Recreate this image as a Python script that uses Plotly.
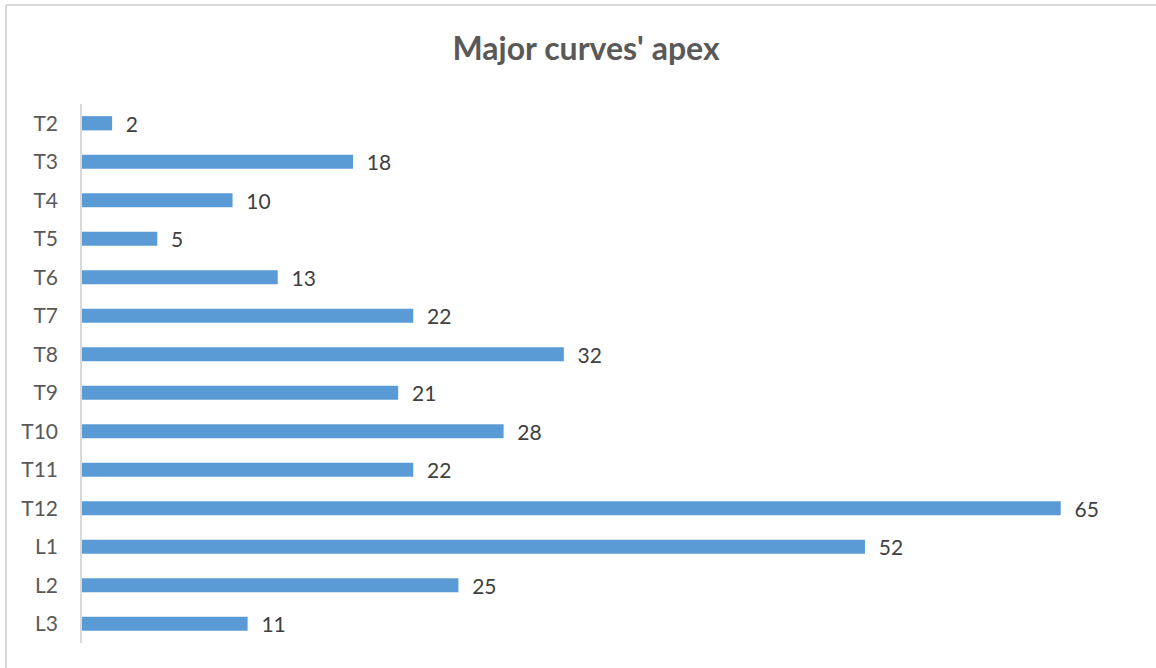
import plotly.graph_objects as go

categories = ["T2", "T3", "T4", "T5", "T6", "T7", "T8", "T9", "T10", "T11", "T12", "L1", "L2", "L3"]
values = [2, 18, 10, 5, 13, 22, 32, 21, 28, 22, 65, 52, 25, 11]
title_text = "Major curves' apex"

W, H = 1156, 668
ml, mr, mt, mb = 82, 20, 104, 25
pw, ph = W - ml - mr, H - mt - mb
FONT = "Lato, Open Sans, sans-serif"

fig = go.Figure(go.Bar(
    x=values, y=categories, orientation="h",
    marker=dict(color="#5B9BD5", line=dict(width=0)),
    width=0.37,
    text=["\u00a0\u00a0" + str(v) for v in values], textposition="outside",
    constraintext="none",
    textfont=dict(family=FONT, size=21, color="#404040"),
    cliponaxis=False,
))

fig.update_layout(
    width=W, height=H,
    margin=dict(l=ml, r=mr, t=mt, b=mb),
    paper_bgcolor="white", plot_bgcolor="white",
    title=dict(text="<b>" + title_text + "</b>", x=0.507, xanchor="center", y=1 - 49 / H, yanchor="middle",
               font=dict(family=FONT, size=32, color="#595959")),
    xaxis=dict(range=[0, 70], visible=False, showgrid=False, zeroline=False),
    yaxis=dict(autorange="reversed", showline=True, linecolor="#D9D9D9", linewidth=1.5,
               ticks="", showgrid=False, ticklabelstandoff=18,
               tickfont=dict(family=FONT, size=21, color="#595959")),
    showlegend=False,
    shapes=[
        dict(type="line", xref="paper", yref="paper", x0=(6 - ml) / pw, x1=(6 - ml) / pw,
             y0=1 + (mt - 5) / ph, y1=-mb / ph - 0.01, line=dict(color="#D9D9D9", width=2)),
        dict(type="line", xref="paper", yref="paper", x0=(6 - ml) / pw, x1=1 + mr / pw + 0.01,
             y0=1 + (mt - 5) / ph, y1=1 + (mt - 5) / ph, line=dict(color="#D9D9D9", width=2)),
    ],
)

fig.write_html("out.html")
